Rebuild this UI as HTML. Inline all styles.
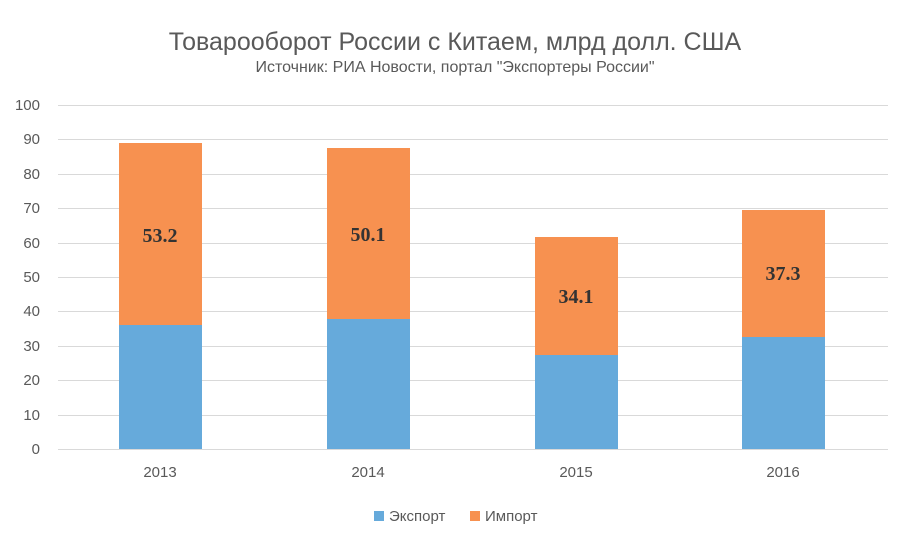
<!DOCTYPE html>
<html><head><meta charset="utf-8"><style>
html,body{margin:0;padding:0;background:#fff;}
svg{display:block;font-family:"Liberation Sans",sans-serif;}
</style></head><body>
<svg width="910" height="540" viewBox="0 0 910 540" xmlns="http://www.w3.org/2000/svg">
<rect width="910" height="540" fill="#fff"/>
<text x="455" y="50" text-anchor="middle" font-size="25" fill="#595959">Товарооборот России с Китаем, млрд долл. США</text>
<text x="455" y="72" text-anchor="middle" font-size="16" fill="#595959">Источник: РИА Новости, портал "Экспортеры России"</text>
<g stroke="#d9d9d9" stroke-width="1">
<line x1="58" x2="888" y1="105.5" y2="105.5"/>
<line x1="58" x2="888" y1="139.5" y2="139.5"/>
<line x1="58" x2="888" y1="174.5" y2="174.5"/>
<line x1="58" x2="888" y1="208.5" y2="208.5"/>
<line x1="58" x2="888" y1="243.5" y2="243.5"/>
<line x1="58" x2="888" y1="277.5" y2="277.5"/>
<line x1="58" x2="888" y1="311.5" y2="311.5"/>
<line x1="58" x2="888" y1="346.5" y2="346.5"/>
<line x1="58" x2="888" y1="380.5" y2="380.5"/>
<line x1="58" x2="888" y1="415.5" y2="415.5"/>
<line x1="58" x2="888" y1="449.5" y2="449.5"/>
</g>
<g font-size="15" fill="#595959" text-anchor="end">
<text x="40" y="110">100</text><text x="40" y="144">90</text><text x="40" y="179">80</text>
<text x="40" y="213">70</text><text x="40" y="248">60</text><text x="40" y="282">50</text>
<text x="40" y="316">40</text><text x="40" y="351">30</text><text x="40" y="385">20</text>
<text x="40" y="420">10</text><text x="40" y="454">0</text>
</g>
<g fill="#66aadb">
<rect x="119" y="325" width="83" height="124"/>
<rect x="327" y="319" width="83" height="130"/>
<rect x="535" y="355" width="83" height="94"/>
<rect x="742" y="337" width="83" height="112"/>
</g>
<g fill="#f79150">
<rect x="119" y="143" width="83" height="182"/>
<rect x="327" y="148" width="83" height="171"/>
<rect x="535" y="237" width="83" height="118"/>
<rect x="742" y="210" width="83" height="127"/>
</g>
<g font-family="Liberation Serif,serif" font-weight="bold" font-size="20" fill="#333" text-anchor="middle">
<text x="160" y="242">53.2</text>
<text x="368" y="241">50.1</text>
<text x="576" y="303">34.1</text>
<text x="783" y="280">37.3</text>
</g>
<g font-size="15" fill="#595959" text-anchor="middle">
<text x="160" y="477">2013</text><text x="368" y="477">2014</text>
<text x="576" y="477">2015</text><text x="783" y="477">2016</text>
</g>
<rect x="374" y="511" width="10" height="10" fill="#66aadb"/>
<text x="389" y="521" font-size="15" fill="#595959">Экспорт</text>
<rect x="470" y="511" width="10" height="10" fill="#f79150"/>
<text x="485" y="521" font-size="15" fill="#595959">Импорт</text>
</svg>
</body></html>
